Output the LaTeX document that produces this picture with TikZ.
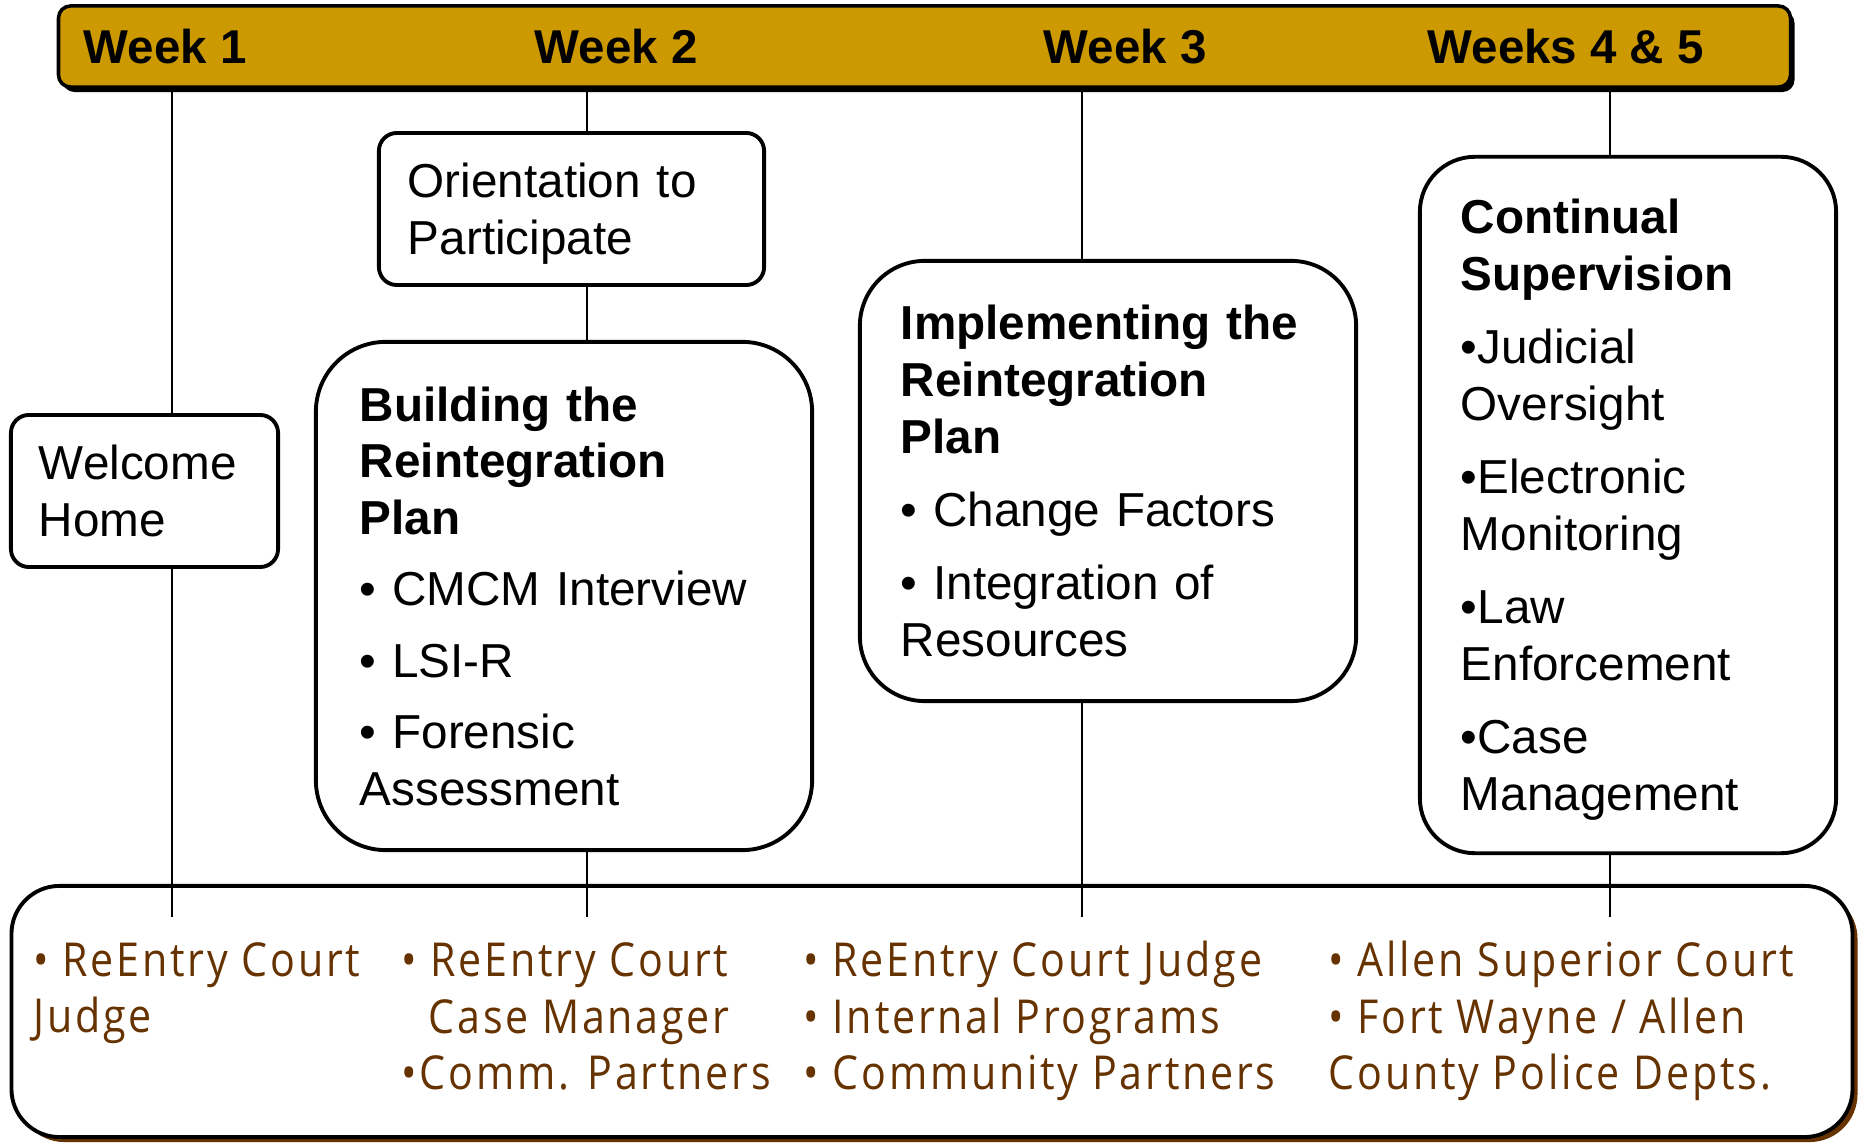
\documentclass[tikz,border=0pt]{standalone}
\usepackage{fontspec}
\setmainfont{Liberation Sans}
\newfontfamily\partnerfont[FakeStretch=0.88,LetterSpace=6]{Open Sans}
\usepackage{tikz}
\usetikzlibrary{shapes,positioning,shadows}
\usepackage{xcolor}
\definecolor{rcgold}{RGB}{204,153,0}
\definecolor{rcbrown}{RGB}{102,51,0}
\tikzstyle{weekbar} = [rectangle, rounded corners=0.12cm, draw=black, line width=1pt, fill=rcgold, inner sep=0pt, drop shadow={shadow xshift=0.04cm, shadow yshift=-0.05cm, opacity=1, fill=black}]
\tikzstyle{stage} = [rectangle, draw=black, line width=1.1pt, fill=white, align=left, inner ysep=0pt, font=\fontsize{13.55pt}{16.2pt}\selectfont]
\tikzstyle{weeklabel} = [anchor=base west, inner sep=0pt, font=\fontsize{13.5pt}{16.2pt}\selectfont\bfseries]
\tikzstyle{timeline} = [line width=0.6pt, draw=black]
\tikzstyle{partners} = [anchor=base west, inner sep=0pt, align=left, text=rcbrown, font=\partnerfont\fontsize{13.3pt}{16.2pt}\selectfont]

\begin{document}
\begin{tikzpicture}[x=0.01cm, y=-0.01cm]
\useasboundingbox (0,0) rectangle (1862,1143);

% week bar and partner box
\node[weekbar, minimum width=17.31cm, minimum height=0.81cm] (bar) at (924.5,46.5) {};
\node[rectangle, rounded corners=0.48cm, draw=black, line width=1.1pt, fill=white, inner sep=0pt,
      drop shadow={shadow xshift=0.05cm, shadow yshift=-0.05cm, opacity=1, fill=rcbrown},
      minimum width=18.40cm, minimum height=2.51cm] (partnerbox) at (932,1011.5) {};

\foreach \x [count=\i] in {172,587,1082,1610} {
  \coordinate (end\i) at (\x,917);
  \draw[timeline] (bar.south -| end\i) -- (end\i);
}

% stages
\node[stage, rounded corners=0.18cm, inner xsep=0.28cm, text width=2.11cm, minimum height=1.52cm] (welcome) at (144.5,491) {Welcome\\Home};
\node[stage, rounded corners=0.18cm, inner xsep=0.29cm, text width=3.27cm, minimum height=1.52cm] (orient) at (571.5,209) {Orientation to\\\smash{Participate}};
\node[stage, rounded corners=0.7cm, inner xsep=0.44cm, text width=4.08cm, minimum height=5.08cm] (build) at (564,596)
  {{\bfseries Building the\\Reintegration\\Plan}\\[4pt]
   • CMCM Interview\\[4pt]
   • LSI-R\\[4pt]
   • Forensic\\Assessment};
\node[stage, rounded corners=0.65cm, inner xsep=0.41cm, text width=4.14cm, minimum height=4.40cm] (implement) at (1108,481)
  {{\bfseries Implementing the\\Reintegration\\Plan}\\[4.5pt]
   • Change Factors\\[4.5pt]
   • Integration of\\Resources};
\node[stage, rounded corners=0.55cm, inner xsep=0.41cm, text width=3.34cm, minimum height=6.96cm] (supervise) at (1628,505)
  {{\bfseries Continual\\Supervision}\\[4.6pt]
   •Judicial\\Oversight\\[4.6pt]
   •Electronic\\Monitoring\\[4.6pt]
   •Law\\Enforcement\\[4.6pt]
   •Case\\\smash{Management}};

% week labels
\node[weeklabel] (week1) at (83,64) {Week 1};
\node[weeklabel] (week2) at (534,64) {Week 2};
\node[weeklabel] (week3) at (1043,64) {Week 3};
\node[weeklabel] (week45) at (1427,64) {Weeks 4 \& 5};

% partners (anchored on last line)
\node[partners] (part1) at (33,1033) {• ReEntry Court\\Judge};
\node[partners] (part2) at (401,1090) {• ReEntry Court\\\hspace*{0.27cm}Case Manager\\•Comm. Partners};
\node[partners] (part3) at (803,1090) {• ReEntry Court Judge\\• Internal Programs\\• Community Partners};
\node[partners] (part4) at (1328,1090) {• Allen Superior Court\\• Fort Wayne / Allen\\County Police Depts.};
\end{tikzpicture}
\end{document}
